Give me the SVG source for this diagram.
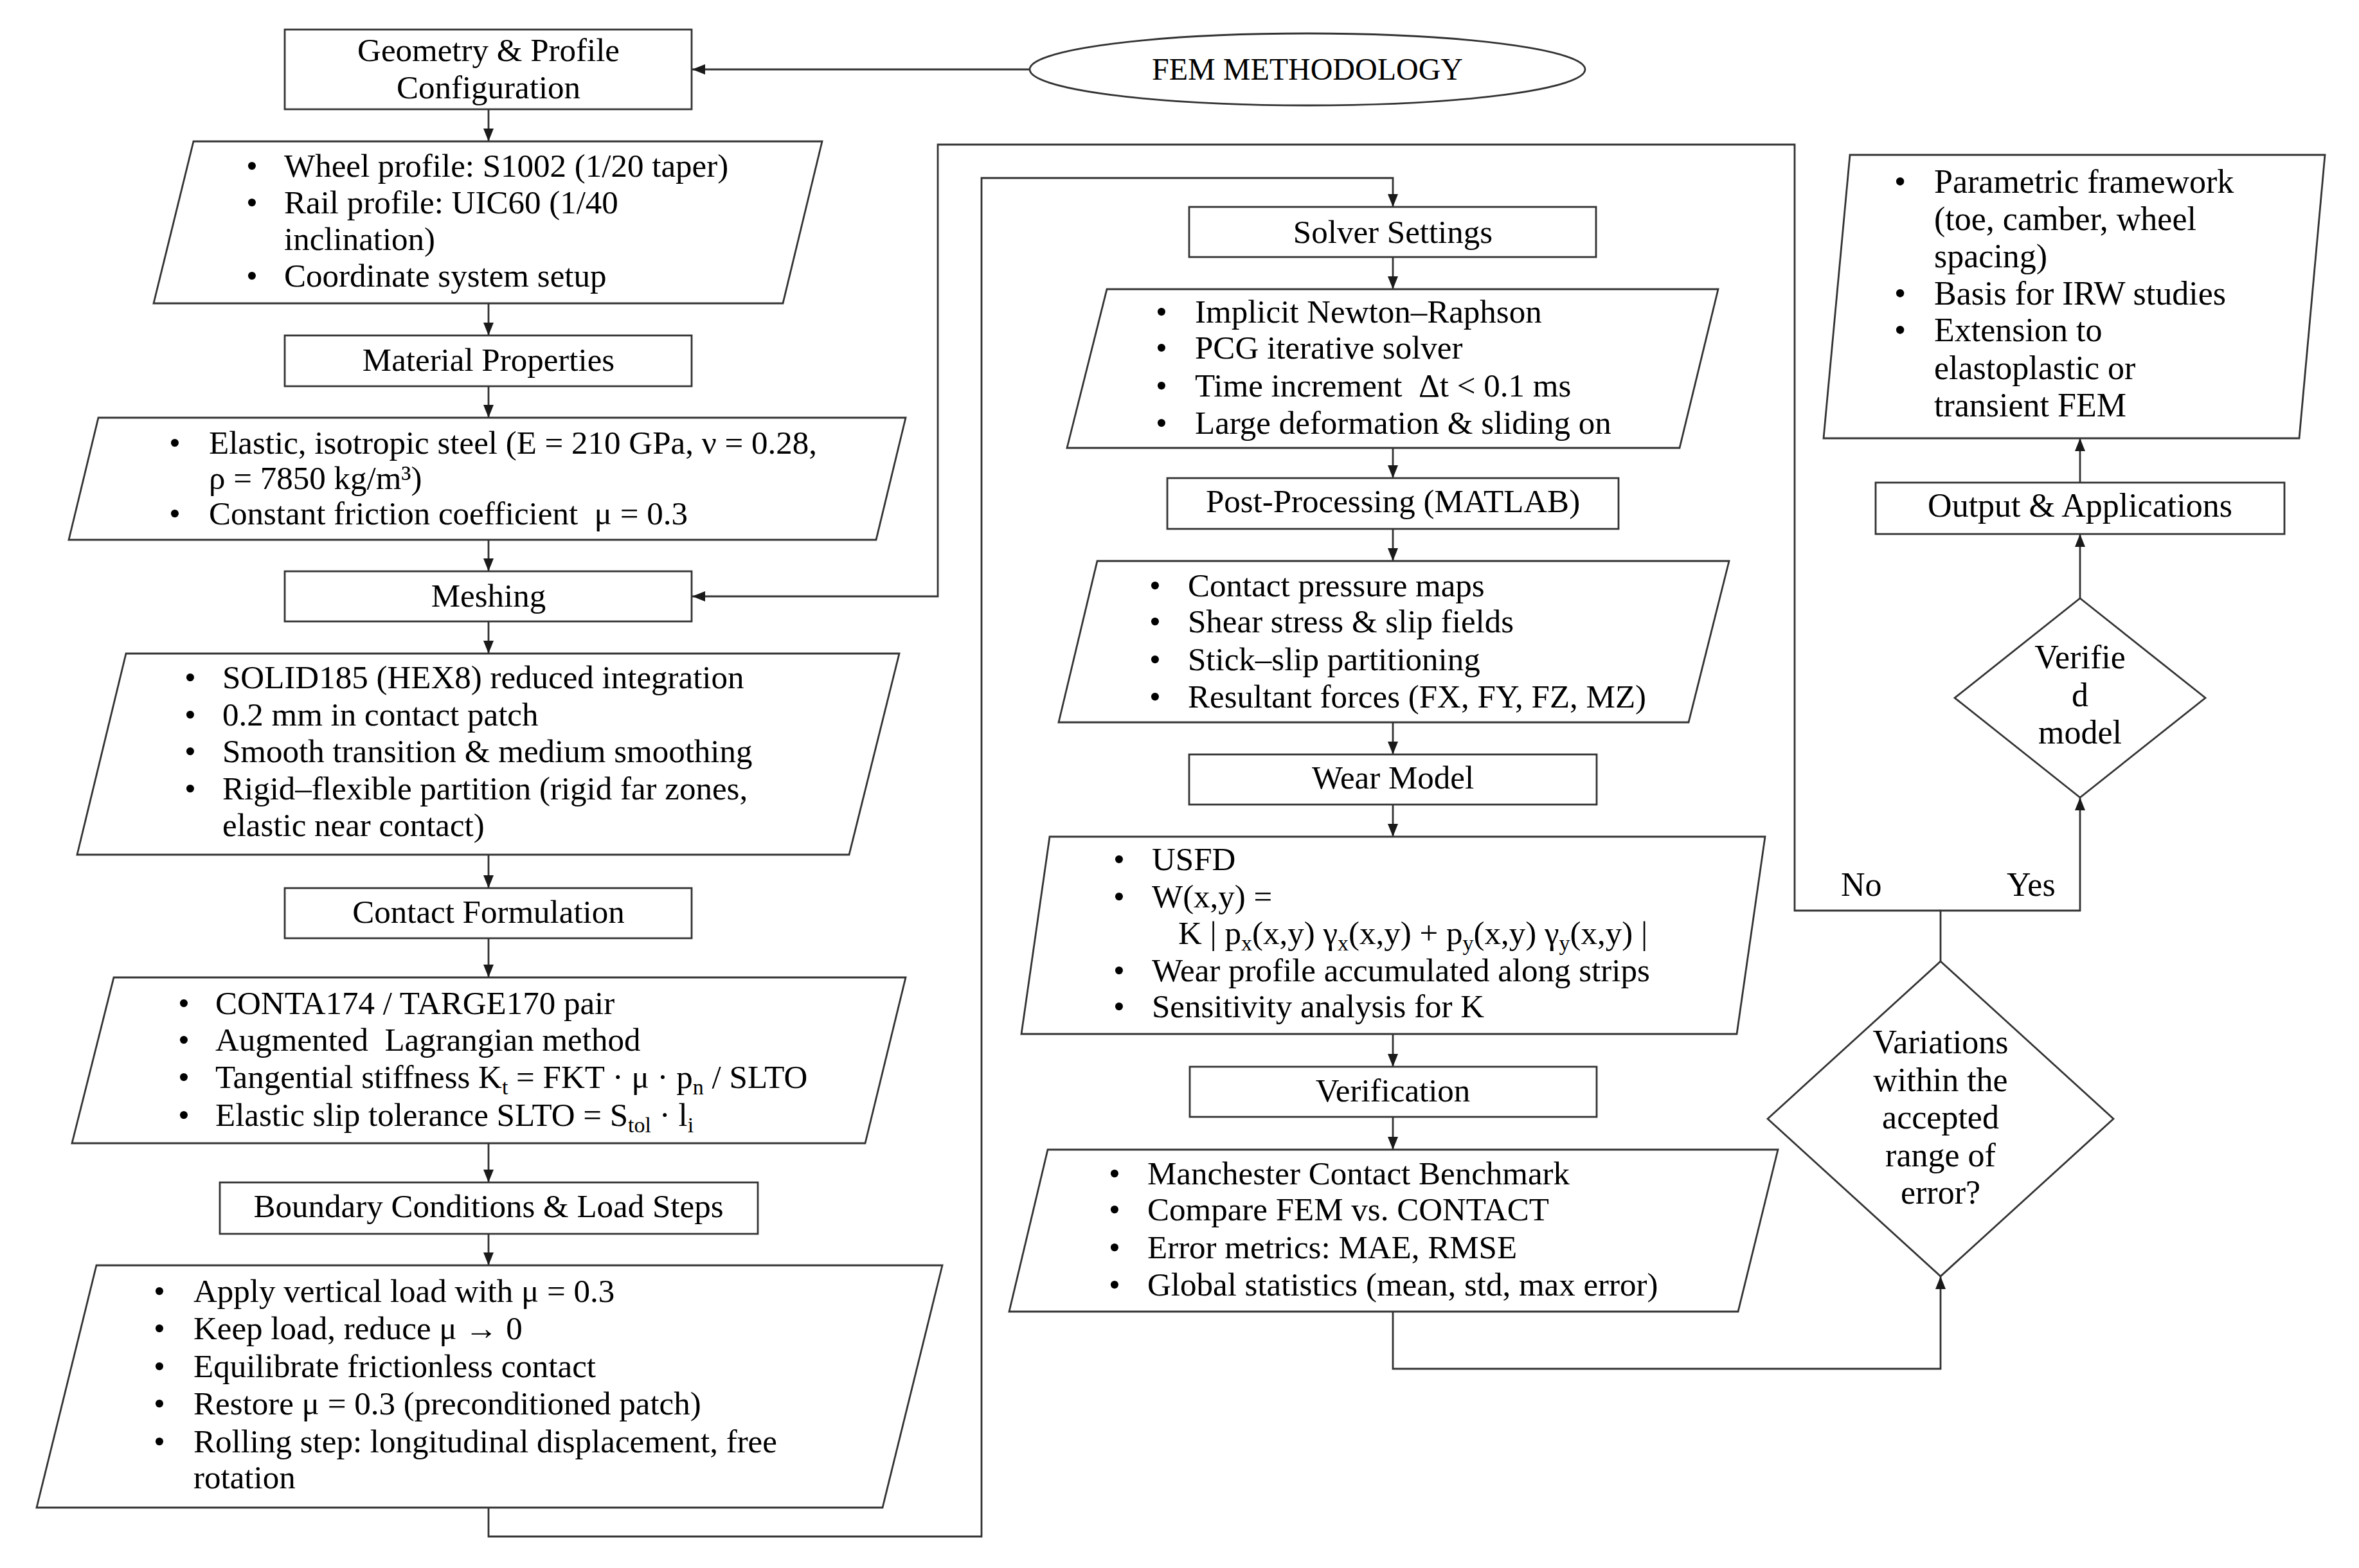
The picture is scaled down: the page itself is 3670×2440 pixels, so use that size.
<svg xmlns="http://www.w3.org/2000/svg" width="3670" height="2440" viewBox="0 0 3670 2440">
<defs>
<marker id="arr" viewBox="0 0 20 16" refX="20" refY="8" markerWidth="20" markerHeight="16" markerUnits="userSpaceOnUse" orient="auto">
<path d="M0,0 L20,8 L0,16 z" fill="#1a1a1a"/>
</marker>
</defs>
<style>
.sh{fill:#fff;stroke:#333;stroke-width:2.8}
.ln{fill:none;stroke:#333;stroke-width:2.8}
text{font-family:"Liberation Serif","Times New Roman",serif;font-size:51px;fill:#000}
.c{text-anchor:middle}
.r{font-size:52px}
.sub{font-size:34px}
</style>
<rect width="3670" height="2440" fill="#fff"/>

<g id="connectors">
<path class="ln" d="M1602,108 H1077" marker-end="url(#arr)"/>
<path class="ln" d="M760,170 V220" marker-end="url(#arr)"/>
<path class="ln" d="M760,472 V522" marker-end="url(#arr)"/>
<path class="ln" d="M760,601 V650" marker-end="url(#arr)"/>
<path class="ln" d="M760,840 V889" marker-end="url(#arr)"/>
<path class="ln" d="M760,967 V1017" marker-end="url(#arr)"/>
<path class="ln" d="M760,1330 V1382" marker-end="url(#arr)"/>
<path class="ln" d="M760,1460 V1521" marker-end="url(#arr)"/>
<path class="ln" d="M760,1779 V1840" marker-end="url(#arr)"/>
<path class="ln" d="M760,1920 V1969" marker-end="url(#arr)"/>
<path class="ln" d="M760,2346 V2391 H1527 V277 H2167 V322" marker-end="url(#arr)"/>
<path class="ln" d="M2167,400 V450" marker-end="url(#arr)"/>
<path class="ln" d="M2167,697 V744" marker-end="url(#arr)"/>
<path class="ln" d="M2167,823 V873" marker-end="url(#arr)"/>
<path class="ln" d="M2167,1124 V1174" marker-end="url(#arr)"/>
<path class="ln" d="M2167,1252 V1302" marker-end="url(#arr)"/>
<path class="ln" d="M2167,1609 V1660" marker-end="url(#arr)"/>
<path class="ln" d="M2167,1738 V1789" marker-end="url(#arr)"/>
<path class="ln" d="M2167,2041 V2130 H3019 V1986" marker-end="url(#arr)"/>
<path class="ln" d="M3019,1496 V1417 H3236 V1241" marker-end="url(#arr)"/>
<path class="ln" d="M3019,1417 H2792 V225 H1459 V928 H1077" marker-end="url(#arr)"/>
<path class="ln" d="M3236,931 V831" marker-end="url(#arr)"/>
<path class="ln" d="M3236,751 V682" marker-end="url(#arr)"/>
<text class="r" x="2864" y="1394">No</text>
<text class="r" x="3122" y="1394">Yes</text>
</g>

<g id="fem-methodology">
<ellipse class="sh" cx="2034" cy="108" rx="432" ry="56"/>
<text class="c" x="2034" y="124" style="font-size:48px">FEM METHODOLOGY</text>
</g>

<g id="geometry">
<rect class="sh" x="443" y="46" width="633" height="124"/>
<text class="c" x="760" y="95">Geometry &amp; Profile</text>
<text class="c" x="760" y="153">Configuration</text>
</g>

<g id="geometry-details">
<polygon class="sh" points="301,220 1279,220 1218,472 239,472"/>
<text x="383" y="275">•</text><text x="442" y="275">Wheel profile: S1002 (1/20 taper)</text>
<text x="383" y="332">•</text><text x="442" y="332">Rail profile: UIC60 (1/40</text>
<text x="442" y="389">inclination)</text>
<text x="383" y="446">•</text><text x="442" y="446">Coordinate system setup</text>
</g>

<g id="material">
<rect class="sh" x="443" y="522" width="633" height="79"/>
<text class="c" x="760" y="577">Material Properties</text>
</g>

<g id="material-details">
<polygon class="sh" points="153,650 1409,650 1363,840 107,840"/>
<text x="263" y="706">•</text><text x="325" y="706">Elastic, isotropic steel (E = 210 GPa, ν = 0.28,</text>
<text x="325" y="761">ρ = 7850 kg/m³)</text>
<text x="263" y="816">•</text><text x="325" y="816">Constant friction coefficient&#160; μ = 0.3</text>
</g>

<g id="meshing">
<rect class="sh" x="443" y="889" width="633" height="78"/>
<text class="c" x="760" y="944">Meshing</text>
</g>

<g id="meshing-details">
<polygon class="sh" points="196,1017 1399,1017 1321,1330 120,1330"/>
<text x="287" y="1071">•</text><text x="346" y="1071">SOLID185 (HEX8) reduced integration</text>
<text x="287" y="1129">•</text><text x="346" y="1129">0.2 mm in contact patch</text>
<text x="287" y="1186">•</text><text x="346" y="1186">Smooth transition &amp; medium smoothing</text>
<text x="287" y="1244">•</text><text x="346" y="1244">Rigid–flexible partition (rigid far zones,</text>
<text x="346" y="1301">elastic near contact)</text>
</g>

<g id="contact">
<rect class="sh" x="443" y="1382" width="633" height="78"/>
<text class="c" x="760" y="1436">Contact Formulation</text>
</g>

<g id="contact-details">
<polygon class="sh" points="177,1521 1409,1521 1346,1779 112,1779"/>
<text x="277" y="1578">•</text><text x="335" y="1578">CONTA174 / TARGE170 pair</text>
<text x="277" y="1635">•</text><text x="335" y="1635">Augmented&#160; Lagrangian method</text>
<text x="277" y="1693">•</text><text x="335" y="1693">Tangential stiffness K<tspan class="sub" dy="10">t</tspan><tspan dy="-10"> = FKT · μ · p</tspan><tspan class="sub" dy="10">n</tspan><tspan dy="-10"> / SLTO</tspan></text>
<text x="277" y="1752">•</text><text x="335" y="1752">Elastic slip tolerance SLTO = S<tspan class="sub" dy="10">tol</tspan><tspan dy="-10"> · l</tspan><tspan class="sub" dy="10">i</tspan></text>
</g>

<g id="boundary">
<rect class="sh" x="342" y="1840" width="837" height="80"/>
<text class="c" x="760" y="1894">Boundary Conditions &amp; Load Steps</text>
</g>

<g id="boundary-details">
<polygon class="sh" points="150,1969 1466,1969 1373,2346 57,2346"/>
<text x="239" y="2026">•</text><text x="301" y="2026">Apply vertical load with μ = 0.3</text>
<text x="239" y="2084">•</text><text x="301" y="2084">Keep load, reduce μ → 0</text>
<text x="239" y="2143">•</text><text x="301" y="2143">Equilibrate frictionless contact</text>
<text x="239" y="2201">•</text><text x="301" y="2201">Restore μ = 0.3 (preconditioned patch)</text>
<text x="239" y="2260">•</text><text x="301" y="2260">Rolling step: longitudinal displacement, free</text>
<text x="301" y="2316">rotation</text>
</g>

<g id="solver">
<rect class="sh" x="1850" y="322" width="633" height="78"/>
<text class="c" x="2167" y="378">Solver Settings</text>
</g>

<g id="solver-details">
<polygon class="sh" points="1722,450 2673,450 2613,697 1660,697"/>
<text x="1798" y="502">•</text><text x="1859" y="502">Implicit Newton–Raphson</text>
<text x="1798" y="558">•</text><text x="1859" y="558">PCG iterative solver</text>
<text x="1798" y="617">•</text><text x="1859" y="617">Time increment&#160; Δt &lt; 0.1 ms</text>
<text x="1798" y="675">•</text><text x="1859" y="675">Large deformation &amp; sliding on</text>
</g>

<g id="postprocessing">
<rect class="sh" x="1816" y="744" width="702" height="79"/>
<text class="c" x="2167" y="797">Post-Processing (MATLAB)</text>
</g>

<g id="postprocessing-details">
<polygon class="sh" points="1707,873 2690,873 2627,1124 1647,1124"/>
<text x="1788" y="928">•</text><text x="1848" y="928">Contact pressure maps</text>
<text x="1788" y="984">•</text><text x="1848" y="984">Shear stress &amp; slip fields</text>
<text x="1788" y="1043">•</text><text x="1848" y="1043">Stick–slip partitioning</text>
<text x="1788" y="1101">•</text><text x="1848" y="1101">Resultant forces (FX, FY, FZ, MZ)</text>
</g>

<g id="wear">
<rect class="sh" x="1850" y="1174" width="634" height="78"/>
<text class="c" x="2167" y="1227">Wear Model</text>
</g>

<g id="wear-details">
<polygon class="sh" points="1633,1302 2746,1302 2702,1609 1589,1609"/>
<text x="1732" y="1354">•</text><text x="1792" y="1354">USFD</text>
<text x="1732" y="1412">•</text><text x="1792" y="1412">W(x,y) =</text>
<text x="1833" y="1469">K | p<tspan class="sub" dy="10">x</tspan><tspan dy="-10">(x,y) γ</tspan><tspan class="sub" dy="10">x</tspan><tspan dy="-10">(x,y) + p</tspan><tspan class="sub" dy="10">y</tspan><tspan dy="-10">(x,y) γ</tspan><tspan class="sub" dy="10">y</tspan><tspan dy="-10">(x,y) |</tspan></text>
<text x="1732" y="1527">•</text><text x="1792" y="1527">Wear profile accumulated along strips</text>
<text x="1732" y="1583">•</text><text x="1792" y="1583">Sensitivity analysis for K</text>
</g>

<g id="verification">
<rect class="sh" x="1851" y="1660" width="633" height="78"/>
<text class="c" x="2167" y="1714">Verification</text>
</g>

<g id="verification-details">
<polygon class="sh" points="1630,1789 2766,1789 2704,2041 1570,2041"/>
<text x="1725" y="1843">•</text><text x="1785" y="1843">Manchester Contact Benchmark</text>
<text x="1725" y="1899">•</text><text x="1785" y="1899">Compare FEM vs. CONTACT</text>
<text x="1725" y="1958">•</text><text x="1785" y="1958">Error metrics: MAE, RMSE</text>
<text x="1725" y="2016">•</text><text x="1785" y="2016">Global statistics (mean, std, max error)</text>
</g>

<g id="decision">
<polygon class="sh" points="3019,1496 3288,1741 3019,1986 2750,1741"/>
<text class="c r" x="3019" y="1639">Variations</text>
<text class="c r" x="3019" y="1698">within the</text>
<text class="c r" x="3019" y="1756">accepted</text>
<text class="c r" x="3019" y="1815">range of</text>
<text class="c r" x="3019" y="1873">error?</text>
</g>

<g id="verified-model">
<polygon class="sh" points="3236,931 3431,1086 3236,1241 3041,1086"/>
<text class="c r" x="3236" y="1040">Verifie</text>
<text class="c r" x="3236" y="1099">d</text>
<text class="c r" x="3236" y="1157">model</text>
</g>

<g id="output">
<rect class="sh" x="2918" y="751" width="636" height="80"/>
<text class="c r" x="3236" y="804">Output &amp; Applications</text>
</g>

<g id="output-details">
<polygon class="sh" points="2878,241 3617,241 3577,682 2837,682"/>
<text class="r" x="2947" y="300">•</text><text class="r" x="3009" y="300">Parametric framework</text>
<text class="r" x="3009" y="358">(toe, camber, wheel</text>
<text class="r" x="3009" y="416">spacing)</text>
<text class="r" x="2947" y="474">•</text><text class="r" x="3009" y="474">Basis for IRW studies</text>
<text class="r" x="2947" y="531">•</text><text class="r" x="3009" y="531">Extension to</text>
<text class="r" x="3009" y="590">elastoplastic or</text>
<text class="r" x="3009" y="648">transient FEM</text>
</g>
</svg>
